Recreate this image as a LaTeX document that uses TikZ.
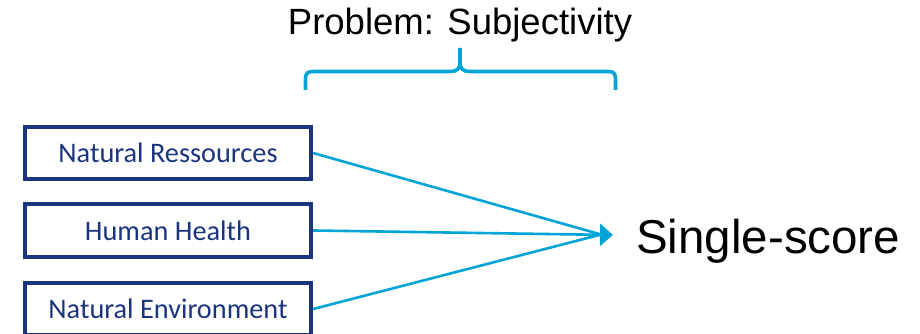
\documentclass[tikz,border=0pt]{standalone}
\usepackage{fontspec}
\setmainfont{Liberation Sans}
\newfontfamily\boxfont{Carlito}
\usetikzlibrary{arrows.meta}
\definecolor{navy}{RGB}{26,52,126}
\definecolor{skyline}{RGB}{0,164,214}
\tikzset{
  impactbox/.style={draw=navy, line width=3.8pt, minimum width=286.5pt, minimum height=52.5pt,
    inner sep=0pt, text=navy, font=\boxfont\fontsize{28.3}{32}\selectfont},
  link/.style={draw=skyline, line width=2.6pt},
  bracket/.style={draw=skyline, line width=3.6pt, line cap=butt}
}
\begin{document}
\begin{tikzpicture}[x=1pt,y=-1pt]
\useasboundingbox (0,0) rectangle (920,334);

% impact categories
\node[impactbox] (res) at (168,153) {Natural Ressources};
\node[impactbox] (hh)  at (168,230.5) {Human Health};
\node[impactbox] (env) at (168,309) {Natural Environment};

% aggregated result
\node[anchor=base west, inner sep=0pt, font=\fontsize{47.5}{54}\selectfont] (score) at (636,253) {Single-score};

% convergence point
\coordinate (tip) at (613,235);
\coordinate (meet) at (601,234.5);

\draw[link] (res.east) -- (meet);
\draw[link] (env.east) -- (meet);
\draw[link, -{Triangle[length=13pt,width=22pt]}] (hh.east) -- (tip);

% curly brace over the weighting step
\draw[bracket] (305.5,90) -- (305.5,80) .. controls (305.5,73) and (307,71.5) .. (314,71.5)
  -- (450,71.5) .. controls (457,71.5) and (460,69) .. (460,62) -- (460,48);
\draw[bracket] (615.5,90) -- (615.5,80) .. controls (615.5,73) and (614,71.5) .. (607,71.5)
  -- (470,71.5) .. controls (463,71.5) and (460,69) .. (460,62);

\node[anchor=base, inner sep=0pt, font=\fontsize{36.5}{42}\selectfont] (title) at (460,35) {Problem: Subjectivity};
\end{tikzpicture}
\end{document}
